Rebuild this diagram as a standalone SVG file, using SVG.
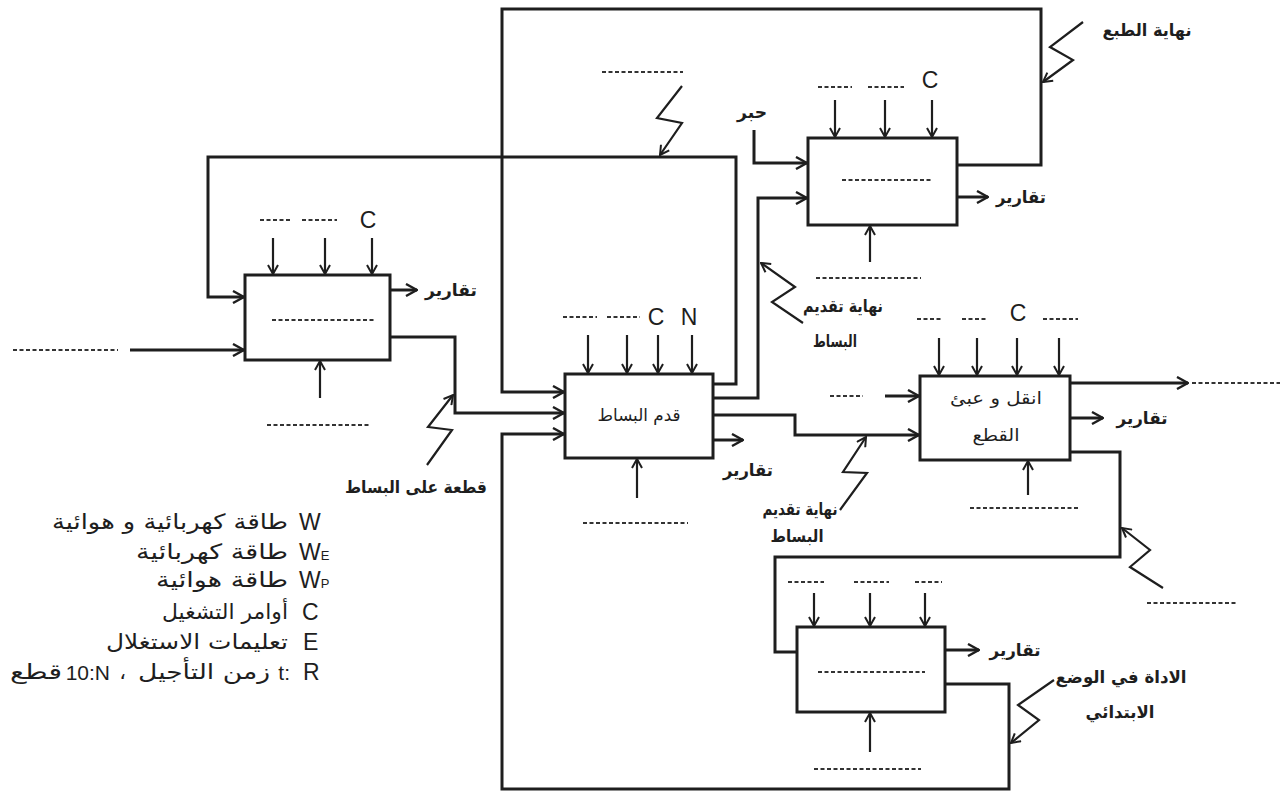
<svg xmlns="http://www.w3.org/2000/svg" width="1287" height="795" viewBox="0 0 1287 795">
<defs>
<marker id="ah" viewBox="0 0 14 14" refX="13" refY="7" markerWidth="14" markerHeight="14" markerUnits="userSpaceOnUse" orient="auto"><path d="M2,1 L13,7 L2,13" fill="none" stroke="#1e1e1e" stroke-width="2.4"/></marker>
<marker id="as" viewBox="0 0 12 12" refX="11" refY="6" markerWidth="12" markerHeight="12" markerUnits="userSpaceOnUse" orient="auto"><path d="M2,1 L11,6 L2,11" fill="none" stroke="#1e1e1e" stroke-width="2"/></marker>
</defs>
<style>
.box{fill:#fff;stroke:#1e1e1e;stroke-width:3}
.ln{fill:none;stroke:#1e1e1e;stroke-width:3;marker-end:url(#ah)}
.lnn{fill:none;stroke:#1e1e1e;stroke-width:3}
.ctl{fill:none;stroke:#1e1e1e;stroke-width:2.2;marker-end:url(#as)}
.bolt{fill:none;stroke:#1e1e1e;stroke-width:2.2;stroke-linejoin:miter;marker-end:url(#as)}
.bl{fill:none;stroke:#333;stroke-width:1.8;stroke-dasharray:4 2.5}
.lat{font-family:"Liberation Sans",Arial,sans-serif;font-size:23px;fill:#1e1e1e}
.ar{font-family:"DejaVu Sans","Noto Sans",sans-serif;font-size:17px;font-weight:bold;fill:#1e1e1e;text-anchor:middle;dominant-baseline:central}
.lg{font-family:"DejaVu Sans","Noto Sans",sans-serif;font-size:21px;fill:#1e1e1e;text-anchor:end;dominant-baseline:central}
.lgl{font-family:"Liberation Sans",Arial,sans-serif;font-size:21px;fill:#1e1e1e;text-anchor:end;dominant-baseline:central}
</style>
<rect width="1287" height="795" fill="#fff"/>

<g id="connectors">
<path class="ln" d="M130,350 H244"/>
<path class="ln" d="M390,337 H455 V413 H564"/>
<path class="ln" d="M713,384 H736 V157 H208 V297 H244"/>
<path class="ln" d="M957,165 H1041 V9 H502 V392 H564"/>
<path class="ln" d="M713,398 H758 V198 H807"/>
<path class="ln" d="M754,130 V163 H807"/>
<path class="ln" d="M713,415 H795 V435 H919"/>
<path class="ln" d="M885,396 H919"/>
<path class="ln" d="M1070,383 H1188"/>
<path class="lnn" d="M1070,452 H1120 V557 H775 V652 H797"/>
<path class="ln" d="M945,684 H1009 V789 H502 V434 H564"/>
<path class="bolt" d="M1083,22 L1050,47 L1073,60 L1043,82"/>
<path class="bolt" d="M682,86 L657,118 L682,123 L660,155"/>
<path class="bolt" d="M803,323 L772,302 L795,287 L761,263"/>
<path class="bolt" d="M427,465 L452,430 L428,427 L453,395"/>
<path class="bolt" d="M840,510 L867,473 L843,472 L866,437"/>
<path class="bolt" d="M1163,588 L1130,567 L1150,550 L1122,528"/>
<path class="bolt" d="M1054,680 L1018,705 L1039,720 L1011,743"/>
<line class="bl" x1="13" y1="350" x2="118" y2="350"/>
<line class="bl" x1="1192" y1="383" x2="1280" y2="383"/>
<line class="bl" x1="602" y1="72" x2="683" y2="72"/>
<line class="bl" x1="1147" y1="603" x2="1238" y2="603"/>
<line class="bl" x1="830" y1="396" x2="863" y2="396"/>
<text class="ar" x="1147" y="30" textLength="89" lengthAdjust="spacingAndGlyphs">نهاية الطبع</text>
<text class="ar" x="752" y="112" textLength="30" lengthAdjust="spacingAndGlyphs">حبر</text>
<text class="ar" x="843" y="306" textLength="80" lengthAdjust="spacingAndGlyphs">نهاية تقديم</text>
<text class="ar" x="835" y="341" textLength="44" lengthAdjust="spacingAndGlyphs">البساط</text>
<text class="ar" x="416" y="487" textLength="142" lengthAdjust="spacingAndGlyphs">قطعة على البساط</text>
<text class="ar" x="800" y="509" textLength="75" lengthAdjust="spacingAndGlyphs">نهاية تقديم</text>
<text class="ar" x="797" y="536" textLength="53" lengthAdjust="spacingAndGlyphs">البساط</text>
<text class="ar" x="1121" y="677" textLength="131" lengthAdjust="spacingAndGlyphs">الاداة في الوضع</text>
<text class="ar" x="1120" y="712" textLength="69" lengthAdjust="spacingAndGlyphs">الابتدائي</text>
</g>

<g id="block-A">
<rect class="box" x="245" y="275" width="145" height="85"/>
<line class="bl" x1="272" y1="320" x2="375" y2="320"/>
<path class="ctl" d="M273,238 V274"/><path class="ctl" d="M325,238 V274"/><path class="ctl" d="M372,238 V274"/>
<line class="bl" x1="260" y1="220" x2="290" y2="220"/><line class="bl" x1="302" y1="220" x2="337" y2="220"/>
<text class="lat" x="368" y="228" text-anchor="middle">C</text>
<path class="ctl" d="M320,398 V361"/>
<line class="bl" x1="267" y1="425" x2="370" y2="425"/>
<path class="ln" d="M390,290 H417"/>
<text class="ar" x="451" y="290" textLength="52" lengthAdjust="spacingAndGlyphs">تقارير</text>
</g>

<g id="block-print">
<rect class="box" x="808" y="138" width="149" height="87"/>
<line class="bl" x1="842" y1="180" x2="932" y2="180"/>
<path class="ctl" d="M835,100 V137"/><path class="ctl" d="M885,100 V137"/><path class="ctl" d="M932,100 V137"/>
<line class="bl" x1="818" y1="87" x2="852" y2="87"/><line class="bl" x1="868" y1="87" x2="904" y2="87"/>
<text class="lat" x="930" y="88" text-anchor="middle">C</text>
<path class="ctl" d="M870,262 V226"/>
<line class="bl" x1="816" y1="278" x2="921" y2="278"/>
<path class="ln" d="M957,197 H988"/>
<text class="ar" x="1021" y="197" textLength="50" lengthAdjust="spacingAndGlyphs">تقارير</text>
</g>

<g id="block-B">
<rect class="box" x="565" y="374" width="148" height="84"/>
<text class="ar" x="639" y="415" textLength="83" lengthAdjust="spacingAndGlyphs" style="font-weight:normal">قدم البساط</text>
<path class="ctl" d="M588,335 V373"/><path class="ctl" d="M627,335 V373"/><path class="ctl" d="M658,335 V373"/><path class="ctl" d="M692,335 V373"/>
<line class="bl" x1="563" y1="317" x2="597" y2="317"/><line class="bl" x1="607" y1="317" x2="640" y2="317"/>
<text class="lat" x="656" y="325" text-anchor="middle">C</text>
<text class="lat" x="689" y="325" text-anchor="middle">N</text>
<path class="ctl" d="M637,498 V459"/>
<line class="bl" x1="583" y1="523" x2="688" y2="523"/>
<path class="ln" d="M713,440 H743"/>
<text class="ar" x="748" y="470" textLength="50" lengthAdjust="spacingAndGlyphs">تقارير</text>
</g>

<g id="block-D">
<rect class="box" x="920" y="376" width="150" height="84"/>
<text class="ar" x="996" y="398" textLength="92" lengthAdjust="spacingAndGlyphs" style="font-weight:normal">انقل و عبئ</text>
<text class="ar" x="996" y="435" textLength="47" lengthAdjust="spacingAndGlyphs" style="font-weight:normal">القطع</text>
<path class="ctl" d="M939,338 V375"/><path class="ctl" d="M977,338 V375"/><path class="ctl" d="M1017,338 V375"/><path class="ctl" d="M1059,338 V375"/>
<line class="bl" x1="917" y1="319" x2="942" y2="319"/><line class="bl" x1="962" y1="319" x2="988" y2="319"/><line class="bl" x1="1043" y1="319" x2="1078" y2="319"/>
<text class="lat" x="1018" y="321" text-anchor="middle">C</text>
<path class="ctl" d="M1028,495 V461"/>
<line class="bl" x1="970" y1="508" x2="1078" y2="508"/>
<path class="ln" d="M1070,418 H1103"/>
<text class="ar" x="1142" y="418" textLength="51" lengthAdjust="spacingAndGlyphs">تقارير</text>
</g>

<g id="block-E">
<rect class="box" x="797" y="627" width="148" height="85"/>
<line class="bl" x1="818" y1="672" x2="925" y2="672"/>
<path class="ctl" d="M814,593 V626"/><path class="ctl" d="M870,593 V626"/><path class="ctl" d="M925,593 V626"/>
<line class="bl" x1="788" y1="582" x2="824" y2="582"/><line class="bl" x1="854" y1="582" x2="889" y2="582"/><line class="bl" x1="915" y1="582" x2="942" y2="582"/>
<path class="ctl" d="M870,752 V713"/>
<line class="bl" x1="814" y1="769" x2="921" y2="769"/>
<path class="ln" d="M945,650 H979"/>
<text class="ar" x="1015" y="650" textLength="51" lengthAdjust="spacingAndGlyphs">تقارير</text>
</g>

<g id="legend">
<text class="lat" x="299" y="530">W</text>
<text class="lg" x="288" y="522" textLength="236" lengthAdjust="spacingAndGlyphs">طاقة كهربائية و هوائية</text>
<text class="lat" x="299" y="560">W<tspan font-size="13">E</tspan></text>
<text class="lg" x="288" y="552" textLength="152" lengthAdjust="spacingAndGlyphs">طاقة كهربائية</text>
<text class="lat" x="299" y="588">W<tspan font-size="13">P</tspan></text>
<text class="lg" x="288" y="580" textLength="132" lengthAdjust="spacingAndGlyphs">طاقة هوائية</text>
<text class="lat" x="302" y="620">C</text>
<text class="lg" x="288" y="612" textLength="126" lengthAdjust="spacingAndGlyphs">أوامر التشغيل</text>
<text class="lat" x="303" y="650">E</text>
<text class="lg" x="288" y="642" textLength="182" lengthAdjust="spacingAndGlyphs">تعليمات الاستغلال</text>
<text class="lat" x="303" y="680">R</text>
<text class="lgl" x="290" y="672">t:</text>
<text class="lg" x="270" y="672" textLength="132" lengthAdjust="spacingAndGlyphs">زمن التأجيل</text>
<text class="lg" x="126" y="672">،</text>
<text class="lgl" x="110" y="672">10:N</text>
<text class="lg" x="62" y="672" textLength="52" lengthAdjust="spacingAndGlyphs">قطع</text>
</g>
</svg>
